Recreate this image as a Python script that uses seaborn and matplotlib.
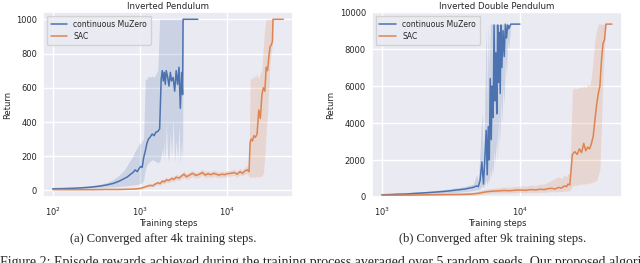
import numpy as np
import pandas as pd
import matplotlib
matplotlib.use("Agg")
import matplotlib.pyplot as plt
import seaborn as sns

# ---------------- data ----------------
series_names = ["continuous MuZero", "SAC"]
panel_titles = ["Inverted Pendulum", "Inverted Double Pendulum"]
sub_captions = ["(a) Converged after 4k training steps.", "(b) Converged after 9k training steps."]
fig_caption = ("Figure 2: Episode rewards achieved during the training process averaged over 5 random seeds. "
               "Our proposed algorithm converges faster")

# Inverted Pendulum - continuous MuZero
ip_mz_x = [100, 130, 170, 220, 280, 350, 420, 500, 580, 650,
           720, 780, 830, 880, 930, 980, 1020, 1060, 1100, 1150,
           1200, 1250, 1300, 1380, 1450, 1520, 1600, 1680, 1750, 1800,
           1850, 1900, 1950, 2000, 2080, 2150, 2230, 2300, 2400, 2500,
           2600, 2700, 2800, 2900, 3000, 3080, 3120, 3400, 3800, 4200,
           4600]
ip_mz_mean = [10, 11, 13, 16, 20, 26, 33, 42, 55, 68,
              80, 95, 105, 120, 110, 130, 140, 135, 190, 230,
              275, 300, 310, 330, 320, 340, 345, 360, 650, 700,
              640, 690, 620, 700, 660, 610, 690, 640, 660, 580,
              700, 620, 720, 480, 690, 560, 1000, 1000, 1000, 1000,
              1000]
ip_mz_lo = [7, 8, 10, 12, 15, 18, 20, 22, 24, 26,
            28, 30, 32, 34, 36, 38, 40, 45, 60, 120,
            150, 160, 170, 180, 175, 170, 160, 170, 200, 250,
            180, 300, 160, 400, 200, 170, 350, 180, 420, 160,
            300, 170, 380, 150, 300, 160, 1000, 1000, 1000, 1000,
            1000]
ip_mz_hi = [13, 14, 17, 21, 27, 36, 48, 65, 90, 115,
            150, 180, 200, 230, 250, 280, 270, 290, 300, 650,
            650, 670, 660, 670, 660, 680, 700, 1000, 1000, 1000,
            1000, 1000, 1000, 1000, 1000, 1000, 1000, 1000, 1000, 1000,
            1000, 1000, 1000, 1000, 1000, 1000, 1000, 1000, 1000, 1000,
            1000]

# Inverted Pendulum - SAC
ip_sac_x = [100, 150, 200, 300, 400, 500, 600, 700, 800, 900,
            1000, 1100, 1200, 1300, 1400, 1500, 1600, 1700, 1800, 1900,
            2000, 2150, 2300, 2450, 2600, 2800, 3000, 3200, 3400, 3700,
            4000, 4400, 4800, 5200, 5600, 6000, 6500, 7000, 7500, 8000,
            8700, 9400, 10000, 11000, 12000, 13000, 14000, 15000, 16000, 17000,
            17800, 18300, 18800, 19500, 20200, 21000, 22000, 23000, 24000, 25000,
            26000, 27000, 28000, 29000, 30000, 31000, 32000, 33000,
            33500, 36000, 40000, 44000]
ip_sac_mean = [5, 5, 5, 5, 6, 6, 6, 7, 8, 9,
               12, 18, 25, 30, 28, 38, 45, 40, 55, 50,
               62, 58, 70, 65, 78, 72, 85, 95, 80, 90,
               100, 88, 95, 105, 90, 98, 92, 100, 95, 90,
               95, 92, 98, 100, 105, 95, 110, 100, 115, 120,
               110, 280, 300, 290, 320, 310, 330, 470, 420, 560,
               600, 580, 720, 700, 780, 840, 850, 870,
               1000, 1000, 1000, 1000]
ip_sac_lo = [3, 3, 3, 3, 4, 4, 4, 5, 6, 7,
             8, 12, 18, 22, 20, 28, 33, 30, 42, 38,
             48, 45, 55, 52, 62, 58, 68, 76, 65, 72,
             82, 72, 78, 88, 74, 80, 76, 83, 78, 75,
             78, 76, 82, 84, 88, 80, 92, 84, 96, 98,
             80, 75, 78, 80, 76, 78, 80, 82, 80, 85,
             100, 200, 350, 450, 600, 750, 800, 850,
             1000, 1000, 1000, 1000]
ip_sac_hi = [7, 7, 7, 7, 8, 8, 8, 9, 10, 12,
             16, 25, 32, 38, 36, 48, 56, 52, 68, 64,
             78, 72, 86, 80, 95, 88, 102, 115, 98, 108,
             118, 105, 112, 124, 108, 116, 110, 118, 114, 108,
             114, 110, 116, 118, 124, 112, 130, 118, 136, 145,
             140, 640, 660, 650, 670, 660, 680, 650, 690, 700,
             850, 950, 1000, 1000, 1000, 1000, 1000, 1000,
             1000, 1000, 1000, 1000]

# Inverted Double Pendulum - continuous MuZero
idp_mz_x = [1000, 1150, 1300, 1500, 1700, 1900, 2200, 2500, 2800, 3100,
            3400, 3700, 4000, 4300, 4600, 4850, 5000, 5150, 5300, 5450,
            5600, 5700, 5800, 5900, 6000, 6100, 6200, 6300, 6400, 6500,
            6600, 6700, 6800, 6900, 7000, 7100, 7200, 7300, 7400, 7550,
            7700, 7850, 8000, 8150, 8300, 8600, 9000, 9500, 10000]
idp_mz_mean = [120, 130, 150, 160, 190, 210, 240, 270, 300, 330,
               370, 400, 430, 480, 520, 600, 560, 900, 1900, 700,
               2400, 3600, 1200, 3800, 2000, 6400, 3100, 6000, 4300, 9300,
               5200, 7800, 4500, 9300, 6200, 8900, 5600, 9300, 7000, 9000,
               7600, 9350, 8600, 9300, 9100, 9350, 9350, 9350, 9350]
idp_mz_lo = [60, 70, 90, 100, 120, 140, 160, 180, 200, 220,
             250, 270, 290, 320, 350, 400, 380, 450, 600, 500,
             700, 900, 600, 1000, 800, 1500, 1000, 1800, 1200, 2500,
             1800, 3000, 2000, 4000, 2500, 4500, 3000, 5500, 4000, 6000,
             5000, 7500, 6500, 8500, 8000, 9350, 9350, 9350, 9350]
idp_mz_hi = [180, 190, 210, 220, 260, 280, 320, 360, 400, 440,
             490, 530, 570, 640, 700, 1200, 900, 2500, 4600, 2000,
             6000, 9350, 5000, 9350, 7000, 9350, 9350, 9350, 9350, 9350,
             9350, 9350, 9350, 9350, 9350, 9350, 9350, 9350, 9350, 9350,
             9350, 9350, 9350, 9350, 9350, 9350, 9350, 9350, 9350]

# Inverted Double Pendulum - SAC
idp_sac_x = [1000, 1200, 1400, 1600, 1800, 2000, 2300, 2600, 3000, 3400,
             3800, 4200, 4600, 5000, 5500, 6000, 6500, 7000, 7700, 8500,
             9300, 10000, 11000, 12000, 13000, 14000, 15000, 16000, 17000, 18000,
             19000, 20000, 21000, 21800, 22300, 23000, 24000, 25000, 26000, 27000,
             28000, 29000, 30000, 31000, 32000, 33000, 34000, 35000, 36000, 37000,
             38000, 39000, 40000, 41000, 42000, 44000, 46400]
idp_sac_mean = [100, 95, 105, 100, 110, 115, 120, 125, 130, 135,
                140, 150, 165, 200, 260, 300, 320, 330, 350, 340,
                370, 380, 360, 400, 380, 420, 400, 450, 470, 430,
                520, 480, 600, 560, 700, 650, 2300, 2450, 2300, 2600,
                2400, 2900, 2500, 2700, 2600, 2900, 3300, 4200, 5000, 5600,
                6000, 7400, 8300, 8500, 9350, 9350, 9350]
idp_sac_lo = [60, 55, 65, 60, 70, 75, 80, 85, 90, 95,
              100, 105, 110, 130, 160, 190, 200, 210, 220, 210,
              230, 240, 220, 250, 230, 260, 250, 280, 290, 270,
              300, 290, 320, 310, 340, 330, 600, 650, 620, 700,
              680, 720, 700, 750, 730, 780, 800, 850, 900, 1200,
              1500, 4000, 6500, 8000, 9350, 9350, 9350]
idp_sac_hi = [150, 145, 160, 150, 165, 170, 180, 190, 200, 210,
              220, 240, 260, 320, 400, 450, 480, 500, 540, 520,
              580, 600, 580, 650, 620, 700, 700, 800, 900, 1000,
              1100, 1000, 1200, 1100, 1300, 1200, 5800, 5900, 5850, 5950,
              5900, 6000, 5900, 6100, 6000, 6500, 7500, 8500, 9000, 9350,
              9350, 9350, 9350, 9350, 9350, 9350, 9350]

# ---------------- style ----------------
sns.set_theme(style="darkgrid", rc={
    "font.size": 6,
    "axes.titlesize": 6.2,
    "axes.labelsize": 6,
    "xtick.labelsize": 6,
    "ytick.labelsize": 6,
    "legend.fontsize": 5.5,
    "xtick.major.size": 0,
    "ytick.major.size": 0,
    "xtick.minor.size": 0,
    "xtick.major.pad": 6,
    "ytick.major.pad": 4.3,
})
plt.rcParams["font.family"] = ["DejaVu Sans"]
pal = sns.color_palette("deep")
colors = [pal[0], pal[1]]

fig = plt.figure(figsize=(6.4, 2.63), dpi=100)
ax1 = fig.add_axes([0.067, 0.251, 0.391, 0.703])
ax2 = fig.add_axes([0.581, 0.251, 0.391, 0.703])

panels = [
    (ax1, [(ip_mz_x, ip_mz_mean, ip_mz_lo, ip_mz_hi), (ip_sac_x, ip_sac_mean, ip_sac_lo, ip_sac_hi)]),
    (ax2, [(idp_mz_x, idp_mz_mean, idp_mz_lo, idp_mz_hi), (idp_sac_x, idp_sac_mean, idp_sac_lo, idp_sac_hi)]),
]

ylabel_x = [-0.124, -0.148]
for i, (ax, series) in enumerate(panels):
    for (x, m, lo, hi), name, c in zip(series, series_names, colors):
        df = pd.DataFrame({"step": x, "ret": m})
        sns.lineplot(data=df, x="step", y="ret", ax=ax, color=c, linewidth=1.1, label=name)
        ax.fill_between(x, lo, hi, color=c, alpha=0.2, linewidth=0)
    ax.set_xscale("log")
    ax.set_title(panel_titles[i], pad=2)
    ax.set_xlabel("Training steps")
    ax.set_ylabel("Return")
    ax.xaxis.set_label_coords(0.5, -0.118)
    ax.yaxis.set_label_coords(ylabel_x[i], 0.5)
    ax.legend(loc="upper left", frameon=True, handlelength=2.2, borderpad=0.5, labelspacing=0.4)

ax1.set_xlim(77, 57000)
ax1.set_ylim(-38, 1042)
ax1.set_yticks([0, 200, 400, 600, 800, 1000])
ax2.set_xlim(846, 55000)
ax2.set_ylim(0, 10000)
ax2.set_yticks([0, 2000, 4000, 6000, 8000, 10000])

serif = ["Liberation Serif", "DejaVu Serif"]
fig.text(0.255, 1 - 239 / 263, sub_captions[0], ha="center", va="center", family=serif, fontsize=9)
fig.text(0.769, 1 - 239 / 263, sub_captions[1], ha="center", va="center", family=serif, fontsize=9)
fig.text(0.0, -3 / 263, fig_caption, ha="left", va="baseline", family=serif, fontsize=10)

fig.savefig("out.png", dpi=100)
